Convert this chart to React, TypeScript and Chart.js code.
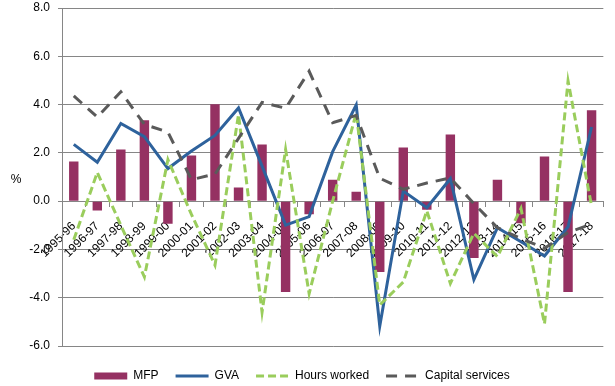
import React, { useEffect, useRef } from 'react';
import { Chart, registerables } from 'chart.js';

Chart.register(...registerables);

const categories = ['1995-96','1996-97','1997-98','1998-99','1999-00','2000-01','2001-02','2002-03','2003-04','2004-05','2005-06','2006-07','2007-08','2008-09','2009-10','2010-11','2011-12','2012-13','2013-14','2014-15','2015-16','2016-17','2017-18'];
const mfp = [1.64, -0.39, 2.14, 3.35, -0.94, 1.89, 4.01, 0.57, 2.35, -3.76, -0.54, 0.89, 0.39, -2.93, 2.22, -0.36, 2.76, -2.35, 0.89, -0.92, 1.85, -3.76, 3.76];
const gva = [2.35, 1.61, 3.22, 2.67, 1.35, 2.08, 2.72, 3.86, 1.45, -0.99, -0.64, 2.05, 3.98, -5.18, 0.42, -0.27, 0.93, -3.25, -1.1, -1.68, -2.27, -1.06, 3.07];
const hoursWorked = [-1.6, 1.19, -1.0, -3.14, 1.72, -0.55, -2.65, 3.59, -4.6, 2.14, -3.83, 0.0, 3.65, -4.3, -3.35, -0.4, -3.41, -1.33, -2.3, -0.3, -5.08, 4.98, -0.2];
const capitalServices = [4.36, 3.48, 4.53, 3.18, 2.86, 0.89, 1.12, 2.6, 4.09, 3.85, 5.38, 3.25, 3.55, 0.95, 0.49, 0.75, 0.96, -0.1, -1.1, -1.55, -1.95, -1.3, -0.95];
const seriesNames = ['MFP', 'GVA', 'Hours worked', 'Capital services'];
const yTitle = '%';
const yMin = -6;
const yMax = 8;
const yStep = 2;

const FONT = 'Liberation Sans';

const pctPlugin = {
  id: 'pctLabel',
  afterLayout(chart: any) {
    const lg = chart.legend;
    if (lg) {
      lg.top += 7;
      lg.bottom += 7;
    }
  },
  afterDraw(chart: any) {
    const ctx = chart.ctx;
    ctx.save();
    ctx.font = `12px "${FONT}"`;
    ctx.fillStyle = '#000';
    ctx.textAlign = 'center';
    ctx.textBaseline = 'middle';
    ctx.fillText(yTitle, 16, 180);
    ctx.restore();
  },
};

export default function App() {
  const ref = useRef<HTMLCanvasElement>(null);
  useEffect(() => {
    if (!ref.current) return;
    Chart.defaults.font.family = FONT;
    Chart.defaults.font.size = 12;
    Chart.defaults.color = '#000';
    const chart = new Chart(ref.current, {
      type: 'bar',
      data: {
        labels: categories,
        datasets: [
          {
            type: 'bar',
            label: seriesNames[0],
            data: mfp,
            backgroundColor: '#953162',
            borderColor: '#953162',
            borderWidth: 0,
            barPercentage: 0.4,
            categoryPercentage: 1.0,
            order: 4,
          },
          {
            type: 'line',
            label: seriesNames[1],
            data: gva,
            borderColor: '#2E629C',
            backgroundColor: '#2E629C',
            borderWidth: 3,
            pointRadius: 0,
            tension: 0,
            order: 3,
          },
          {
            type: 'line',
            label: seriesNames[2],
            data: hoursWorked,
            borderColor: '#9ACD5C',
            backgroundColor: '#9ACD5C',
            borderWidth: 3,
            borderDash: [8, 4],
            pointRadius: 0,
            tension: 0,
            order: 2,
          },
          {
            type: 'line',
            label: seriesNames[3],
            data: capitalServices,
            borderColor: '#5A5A5A',
            backgroundColor: '#5A5A5A',
            borderWidth: 3,
            borderDash: [11, 8],
            pointRadius: 0,
            tension: 0,
            order: 1,
          },
        ] as any,
      },
      options: {
        responsive: false,
        animation: false,
        devicePixelRatio: 1,
        layout: { padding: { top: 8, right: 11, bottom: 1, left: 0 } },
        plugins: {
          tooltip: { enabled: false },
          legend: {
            position: 'bottom',
            labels: {
              usePointStyle: true,
              pointStyleWidth: 33,
              boxHeight: 7,
              padding: 17,
              color: '#000',
              font: { size: 12, family: FONT },
              generateLabels: (c: any) =>
                c.data.datasets.map((ds: any, i: number) => ({
                  text: ds.label,
                  fillStyle: ds.backgroundColor,
                  strokeStyle: ds.borderColor,
                  lineWidth: i === 0 ? 0 : 3,
                  lineDash: ds.borderDash || [],
                  pointStyle: i === 0 ? 'rect' : 'line',
                  hidden: false,
                  datasetIndex: i,
                })),
            },
          },
        },
        scales: {
          x: {
            position: { y: 0 } as any,
            offset: true,
            afterFit: (scale: any) => {
              scale.paddingTop = 0;
              scale.paddingBottom = 0;
            },
            grid: {
              offset: true,
              drawOnChartArea: false,
              drawTicks: true,
              tickLength: 5,
              color: '#868686',
            },
            border: { color: '#868686', width: 1 },
            ticks: {
              autoSkip: false,
              minRotation: 45,
              maxRotation: 45,
              padding: 13,
              color: '#000',
              font: { size: 12, family: FONT },
            },
          },
          y: {
            min: yMin,
            max: yMax,
            afterFit: (scale: any) => {
              scale.width = 62;
              scale.paddingTop = 0;
              scale.paddingBottom = 0;
            },
            grid: { color: '#868686', tickLength: 4 },
            border: { color: '#868686', width: 1 },
            ticks: {
              stepSize: yStep,
              padding: 8,
              color: '#000',
              font: { size: 12, family: FONT },
              callback: (v: any) => Number(v).toFixed(1),
            },
          },
        },
      },
      plugins: [pctPlugin],
    });
    return () => chart.destroy();
  }, []);
  return (
    <div style={{ position: 'fixed', left: 0, top: 0, width: 615, height: 386, background: '#fff' }}>
      <canvas ref={ref} width={615} height={386} />
    </div>
  );
}
